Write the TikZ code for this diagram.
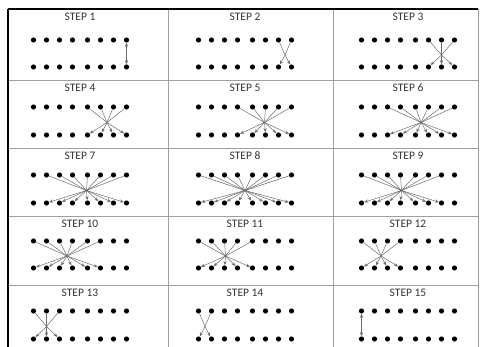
\documentclass[tikz,border=0pt]{standalone}
\usepackage{fontspec}
\setmainfont{Carlito}
\usetikzlibrary{arrows.meta,calc}

\begin{document}
\begin{tikzpicture}[x=1pt, y=-1pt,
    font=\fontsize{11.5}{13}\selectfont,
    dot/.style={circle, fill=black, inner sep=0pt, minimum size=5.2pt},
    grid/.style={draw=gray!75, line width=0.7pt},
    frame/.style={draw=black, line width=1.4pt},
    arr/.style={-{Stealth[length=4pt, width=3.2pt]}, gray!85!black, line width=0.5pt},
    darr/.style={{Stealth[length=4pt, width=3.2pt]}-{Stealth[length=4pt, width=3.2pt]}, gray!85!black, line width=0.5pt}
]
\useasboundingbox (0,0) rectangle (480,347);

% table lines
\path[grid] (168,9) -- (168,347) (333,9) -- (333,347) (478,9) -- (478,347);
\foreach \y in {80,148,216,285}
    \path[grid] (8,\y) -- (478,\y);
\path[frame] (8,9) -- (478,9) (8,9) -- (8,347);

% steps
\foreach \n in {1,...,15} {
    \pgfmathtruncatemacro\r{div(\n-1,3)}
    \pgfmathtruncatemacro\c{mod(\n-1,3)}
    \pgfmathsetmacro\cx{{80,245,408}[\c]}
    \pgfmathsetmacro\ty{{17,88,156,224,293}[\r]}
    \pgfmathsetmacro\ya{{40,107,175,241,311}[\r]}
    \pgfmathsetmacro\yb{{67,135,203,268,339}[\r]}
    \node[text=black!80] (lbl\n) at (\cx,\ty) {STEP \n};
    \foreach \i/\dx in {1/-46.5,2/-33.5,3/-20.5,4/-7.5,5/7.5,6/20.5,7/33.5,8/46.5} {
        \node[dot] (s\n-t\i) at (\cx+\dx,\ya) {};
        \node[dot] (s\n-b\i) at (\cx+\dx,\yb) {};
    }
    \pgfmathtruncatemacro\lo{\n<9 ? 9-\n : 1}
    \pgfmathtruncatemacro\hi{\n<9 ? 8 : 16-\n}
    \ifnum\lo=\hi
        \draw[darr] (s\n-t\lo) -- (s\n-b\lo);
    \else
        \coordinate (s\n-x) at ($(s\n-t\lo)!0.5!(s\n-b\hi)+(0,1.5)$);
        \foreach \k in {\lo,...,\hi}
            \draw[arr] (s\n-x) -- (s\n-t\k) (s\n-x) -- (s\n-b\k);
    \fi
}
\end{tikzpicture}
\end{document}
